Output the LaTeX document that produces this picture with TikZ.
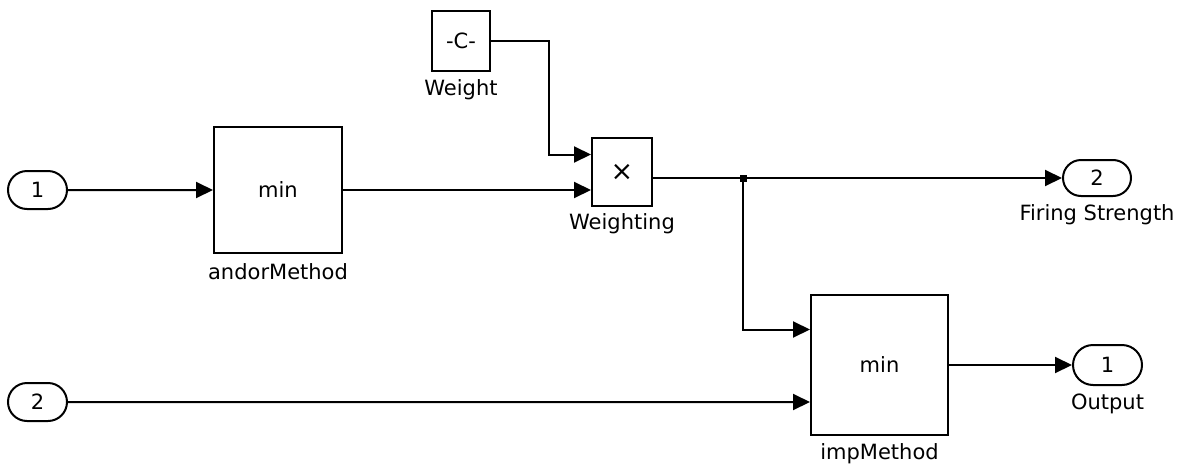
\documentclass[tikz,border=0pt]{standalone}
\usepackage{fontspec}
\setmainfont{DejaVu Sans}
\usetikzlibrary{arrows.meta,shapes.misc,calc}
\begin{document}
\begin{tikzpicture}[x=1pt,y=-1pt,
    every node/.style={font=\fontsize{21}{23}\selectfont},
    blk/.style={draw,line width=2pt,inner sep=0pt},
    port/.style={draw,rounded rectangle,line width=2pt,inner sep=0pt,
        minimum width=62,minimum height=38},
    sig/.style={line width=2pt,-{Triangle[length=17pt,width=16pt]}},
    dot/.style={rectangle,fill,inner sep=0pt,minimum size=7pt},
    every label/.style={font=\fontsize{21}{23}\selectfont},
    label distance=4pt]
    \useasboundingbox (0,0) rectangle (1184,469);

    % Entrees
    \node[port,minimum width=59] (in1) at (37.5,190) {1};
    \node[port,minimum width=59] (in2) at (37.5,402) {2};

    % Blocs
    \node[blk,minimum width=128,minimum height=126,label={[label distance=6pt]below:andorMethod}] (andor) at (278,190) {min};
    \node[blk,minimum width=58,minimum height=60,label=below:Weight] (weight) at (461,41) {-C-};
    \node[blk,minimum width=60,minimum height=68,label={[label distance=3pt]below:Weighting}] (wgt) at (622,172) {\fontsize{27}{27}\selectfont ×};
    \node[blk,minimum width=137,minimum height=140,label=below:impMethod] (imp) at (879.5,365) {min};

    % Sorties
    \node[port,minimum width=68,minimum height=36,label=below:Firing Strength] (fs) at (1097,178) {2};
    \node[port,minimum width=69,minimum height=40,label=below:Output] (out) at (1107.5,365) {1};

    % Liaisons
    \draw[sig] (in1) -- (andor);
    \draw[sig] (andor.east) -- (wgt.west |- andor.east);
    \draw[sig] (weight.east) -- ++(58,0) |- ($(wgt.north west)!.25!(wgt.south west)$);
    \node[dot] (br) at (743,178) {};
    \draw[sig] (wgt.east |- fs) -- (fs);
    \draw[sig] (br) |- ($(imp.north west)!.25!(imp.south west)$);
    \draw[sig] (in2) -- (imp.west |- in2);
    \draw[sig] (imp) -- (out);
\end{tikzpicture}
\end{document}
